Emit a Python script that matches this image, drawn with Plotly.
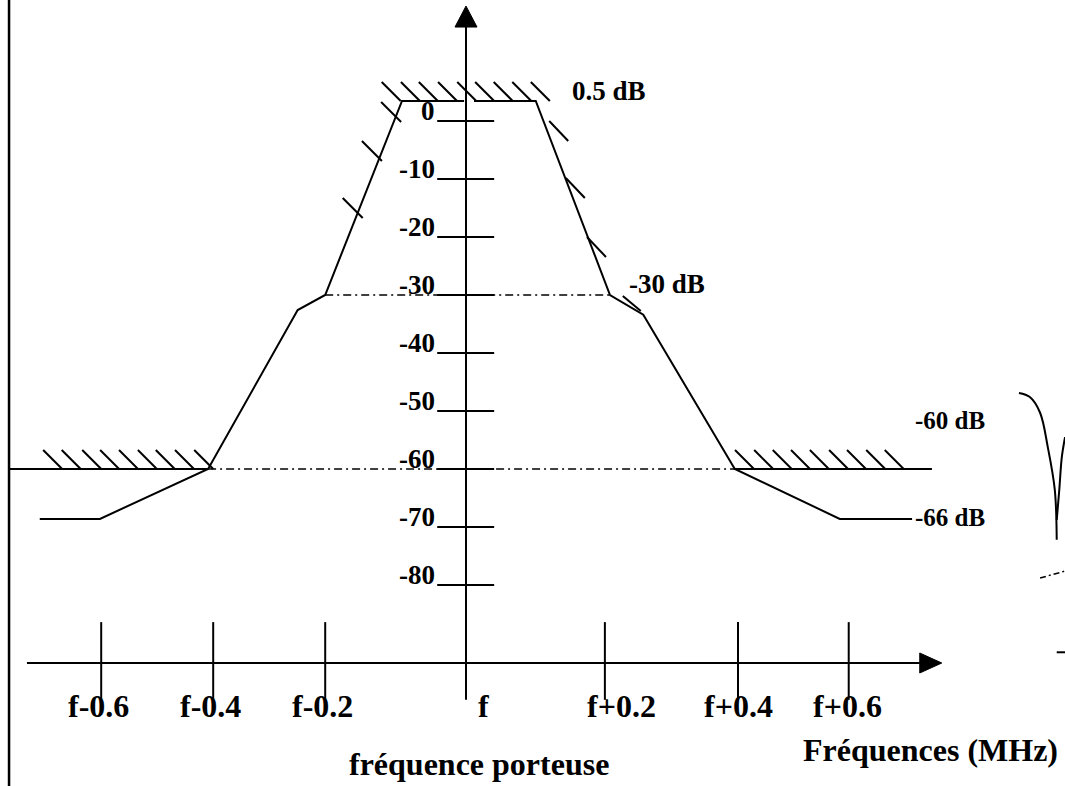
import plotly.graph_objects as go

# ---------------- data (x in MHz offset from carrier f, y in dB) ----------------
mask_left_mhz = [-0.666, -0.572, -0.403, -0.263, -0.220, -0.100, -0.003]
mask_left_db = [-68.6, -68.6, -60.0, -32.6, -30.0, 3.45, 3.45]
mask_right_mhz = [0.0125, 0.109, 0.225, 0.277, 0.420, 0.584, 0.697]
mask_right_db = [3.45, 3.45, -30.0, -33.4, -60.0, -68.6, -68.6]

ytick_db = [0, -10, -20, -30, -40, -50, -60, -70, -80]
ytick_labels = ["0", "-10", "-20", "-30", "-40", "-50", "-60", "-70", "-80"]

xtick_mhz = [-0.570, -0.395, -0.220, 0.0, 0.217, 0.425, 0.598]
xtick_labels = ["f-0.6", "f-0.4", "f-0.2", "f", "f+0.2", "f+0.4", "f+0.6"]

top_level_db = 3.45
top_hatch_mhz = [-0.102, -0.072, -0.044, -0.014, 0.016, 0.044, 0.073, 0.102, 0.131]
floor_db = -60.0
left_hatch_mhz = [-0.631, -0.602, -0.570, -0.542, -0.5125, -0.483, -0.455, -0.425, -0.395]
right_hatch_mhz = [0.450, 0.480, 0.509, 0.5375, 0.567, 0.597, 0.625, 0.655, 0.684]
left_floor_mhz = [-0.714, -0.403]
right_floor_mhz = [0.420, 0.728]

left_slope_tick_mhz = [-0.117, -0.147, -0.177]
left_slope_tick_db = [1.55, -5.17, -15.0]
right_slope_tick_mhz = [0.130, 0.156, 0.189, 0.245]
right_slope_tick_db = [0.0, -9.83, -20.0, -30.17]

ref30_mhz = [-0.220, 0.225]
ref30_db = -30.0
ref60_mhz = [-0.403, 0.420]

yaxis_db = [-99.8, 16.2]
xaxis_mhz = [-0.686, 0.709]
xaxis_db = -93.45
ytick_line_mhz = [-0.045, 0.044]
xtick_line_db = [-86.4, -99.8]
border_mhz = -0.714

# fragments of the neighbouring drawing (cut at right edge)
frag1_mhz = [0.864, 0.881, 0.897, 0.909, 0.920, 0.923]
frag1_db = [-46.9, -47.6, -50.3, -56.2, -63.6, -72.2]
frag2_mhz = [0.936, 0.931, 0.927, 0.923]
frag2_db = [-54.5, -57.9, -63.6, -68.8]
frag3_mhz = [0.897, 0.936]
frag3_db = [-78.8, -77.6]
frag4_mhz = [0.923, 0.936]
frag4_db = [-91.6, -91.6]

# ---------------- figure ----------------
BLACK = "black"
FONT = "Liberation Serif"
fig = go.Figure()


def line(xs, ys, width=2, dash="solid", shape="linear"):
    fig.add_trace(go.Scatter(x=xs, y=ys, mode="lines", hoverinfo="skip",
                             line=dict(color=BLACK, width=width, dash=dash, shape=shape),
                             showlegend=False))


# mask outline
line(mask_left_mhz, mask_left_db)
line(mask_right_mhz, mask_right_db)

# reference dash-dot lines
line(ref30_mhz, [ref30_db, ref30_db], width=1.5, dash="8px,4px,2px,4px")
line(ref60_mhz, [floor_db, floor_db], width=1.5, dash="8px,4px,2px,4px")

# -60 dB floor lines
line(left_floor_mhz, [floor_db, floor_db])
line(right_floor_mhz, [floor_db, floor_db])

# axes
line([0, 0], yaxis_db)
line(xaxis_mhz, [xaxis_db, xaxis_db])

# y tick lines
tx, ty = [], []
for d in ytick_db:
    tx += [ytick_line_mhz[0], ytick_line_mhz[1], None]
    ty += [d, d, None]
line(tx, ty)

# x tick lines
tx, ty = [], []
for m in xtick_mhz:
    if m == 0.0:
        continue
    tx += [m, m, None]
    ty += [xtick_line_db[0], xtick_line_db[1], None]
line(tx, ty)

# fragments
line(frag1_mhz, frag1_db, shape="spline")
line(frag2_mhz, frag2_db, shape="spline")
line(frag3_mhz, frag3_db, width=1.5, dash="6px,3px,2px,3px")
line(frag4_mhz, frag4_db)

shapes = []


def hatch(xa, ya, dx0, dy0, dx1, dy1, w=2):
    shapes.append(dict(type="line", xref="x", yref="y",
                       xsizemode="pixel", ysizemode="pixel",
                       xanchor=xa, yanchor=ya,
                       x0=dx0, y0=dy0, x1=dx1, y1=dy1,
                       line=dict(color=BLACK, width=w)))


for m in top_hatch_mhz:
    hatch(m, top_level_db, -19, 19, 0, 0)
for m in left_hatch_mhz + right_hatch_mhz:
    hatch(m, floor_db, -19, 19, 0, 0)
for m, d in zip(left_slope_tick_mhz, left_slope_tick_db):
    hatch(m, d, -10, 10, 10, -10)
for i, (m, d) in enumerate(zip(right_slope_tick_mhz, right_slope_tick_db)):
    if i == len(right_slope_tick_mhz) - 1:
        hatch(m, d, 0, 0, 18, -15)
    else:
        hatch(m, d, 0, 0, 19, -20)

# arrow heads
shapes.append(dict(type="path", xref="x", yref="y", xsizemode="pixel", ysizemode="pixel",
                   xanchor=0, yanchor=yaxis_db[1], path="M -11,0 L 11,0 L 0,21 Z",
                   fillcolor=BLACK, line=dict(color=BLACK, width=1)))
shapes.append(dict(type="path", xref="x", yref="y", xsizemode="pixel", ysizemode="pixel",
                   xanchor=xaxis_mhz[1], yanchor=xaxis_db, path="M 0,-10 L 0,10 L 22,0 Z",
                   fillcolor=BLACK, line=dict(color=BLACK, width=1)))

# left frame border
shapes.append(dict(type="line", xref="x", yref="paper", x0=border_mhz, x1=border_mhz,
                   y0=0, y1=1, line=dict(color=BLACK, width=2.5)))

annotations = []


def text(s, x, y, size, xanchor="center", xshift=0):
    # y is the text baseline (dB); shift the box so the baseline lands on y
    annotations.append(dict(text="<b>" + s + "</b>", x=x, y=y, xref="x", yref="y",
                            showarrow=False, xanchor=xanchor, yanchor="bottom",
                            xshift=xshift, yshift=-round(0.22 * size + 1),
                            font=dict(family=FONT, size=size, color=BLACK)))


for d, lab in zip(ytick_db, ytick_labels):
    text(lab, ytick_line_mhz[0], d, 27, xanchor="right")

label_shift = [-3, -3, -3, 17, 17, 0, -1]
for m, lab, sh in zip(xtick_mhz, xtick_labels, label_shift):
    text(lab, m, -102.9, 32, xshift=sh)

text("fréquence porteuse", -0.186, -112.9, 32, xanchor="left")
text("Fréquences (MHz)", 0.928, -110.5, 32, xanchor="right")
text("0.5 dB", 0.1625, top_level_db, 27, xanchor="left")
text("-30 dB", 0.2516, -29.8, 27, xanchor="left")
text("-60 dB", 0.808, -53.3, 25, xanchor="right", xshift=4)
text("-66 dB", 0.808, -70.0, 25, xanchor="right", xshift=4)

fig.update_layout(
    width=1065, height=786,
    margin=dict(l=0, r=0, t=0, b=0),
    paper_bgcolor="white", plot_bgcolor="white",
    xaxis=dict(range=[-0.728125, 0.9359375], visible=False, fixedrange=True),
    yaxis=dict(range=[-114.655, 20.862], visible=False, fixedrange=True),
    shapes=shapes, annotations=annotations, showlegend=False,
)

fig.write_html(
    "out.html",
    config={"staticPlot": True},
    post_script="document.body.style.margin='0';document.body.style.padding='0';"
                "document.body.style.overflow='hidden';",
)
